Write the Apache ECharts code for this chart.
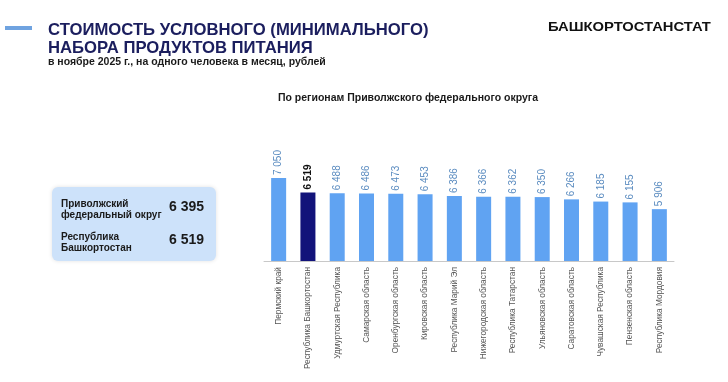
<!DOCTYPE html>
<html><head><meta charset="utf-8">
<script src="https://cdn.jsdelivr.net/npm/echarts@6/dist/echarts.min.js"></script>
<style>html,body{margin:0;padding:0;background:#fff}#c{width:728px;height:382px}</style>
</head><body><div id="c"></div>
<script>
const categories = ["Пермский край","Республика Башкортостан","Удмуртская Республика","Самарская область","Оренбургская область","Кировская область","Республика Марий Эл","Нижегородская область","Республика Татарстан","Ульяновская область","Саратовская область","Чувашская Республика","Пензенская область","Республика Мордовия"];
const values = [7050,6519,6488,6486,6473,6453,6386,6366,6362,6350,6266,6185,6155,5906];
const highlight = "Республика Башкортостан";
const summaryLabels = ["Приволжский\nфедеральный округ","Республика\nБашкортостан"];
const summaryValues = [6395,6519];

const fmt = v => String(v).replace(/\B(?=(\d{3})+(?!\d))/g, " ");
const F = "Liberation Sans, Arial, sans-serif";
const chart = echarts.init(document.getElementById('c'));

const data = values.map((v,i)=>{
  const hi = categories[i]===highlight;
  return {value:v,
    itemStyle:{color: hi ? '#12137a' : '#60a3f2'},
    label:{color: hi ? '#111' : '#5b8cc0', fontWeight: hi ? 'bold':'normal'}};
});

const graphic = [
  {type:'rect', shape:{x:5,y:26,width:27,height:4}, style:{fill:'#6fa3e0'}},
  {type:'text', x:48, y:21, style:{text:'СТОИМОСТЬ УСЛОВНОГО (МИНИМАЛЬНОГО)\nНАБОРА ПРОДУКТОВ ПИТАНИЯ', font:'bold 16.7px '+F, fill:'#1b1e5e', lineHeight:18}},
  {type:'text', x:48, y:57, style:{text:'в ноябре 2025 г., на одного человека в месяц, рублей', font:'bold 10.5px '+F, fill:'#1a1a1a'}},
  {type:'text', x:548, y:22, scaleX:1.23, style:{text:'БАШКОРТОСТАНСТАТ', font:'bold 12px '+F, fill:'#111'}},
  {type:'text', x:408, y:98, style:{text:'По регионам Приволжского федерального округа', font:'bold 10.5px '+F, fill:'#1a1a1a', align:'center', verticalAlign:'middle'}},
  {type:'rect', shape:{x:52,y:187,width:164,height:74,r:6}, style:{fill:'#cde2fa', shadowBlur:4, shadowColor:'rgba(0,0,0,0.12)'}}
];
summaryLabels.forEach((t,i)=>{
  const yc = 210 + i*33;
  graphic.push({type:'text', x:61, y:yc, style:{text:t, font:'bold 10px '+F, fill:'#1a1a1a', lineHeight:11, verticalAlign:'middle'}});
  graphic.push({type:'text', x:204, y:yc-3, style:{text:fmt(summaryValues[i]), font:'bold 14px '+F, fill:'#1a1a1a', align:'right', verticalAlign:'middle'}});
});

chart.setOption({
  animation:false,
  grid:{left:264,width:410,top:125,height:136,outerBoundsMode:'none',containLabel:false},
  xAxis:{type:'category', data:categories,
    axisLine:{lineStyle:{color:'#c8c8c8'}}, axisTick:{show:false},
    axisLabel:{rotate:90, interval:0, color:'#555', fontSize:8.3, fontFamily:F, margin:6}},
  yAxis:{type:'value', min:4000, max:9000, show:false, splitLine:{show:false}},
  series:[{type:'bar', data:data, barWidth:15,
    label:{show:true, position:'top', rotate:90, align:'left', verticalAlign:'middle', distance:3,
      fontSize:10, fontFamily:F, formatter:p=>fmt(p.value)}}],
  graphic:graphic
});
</script></body></html>
